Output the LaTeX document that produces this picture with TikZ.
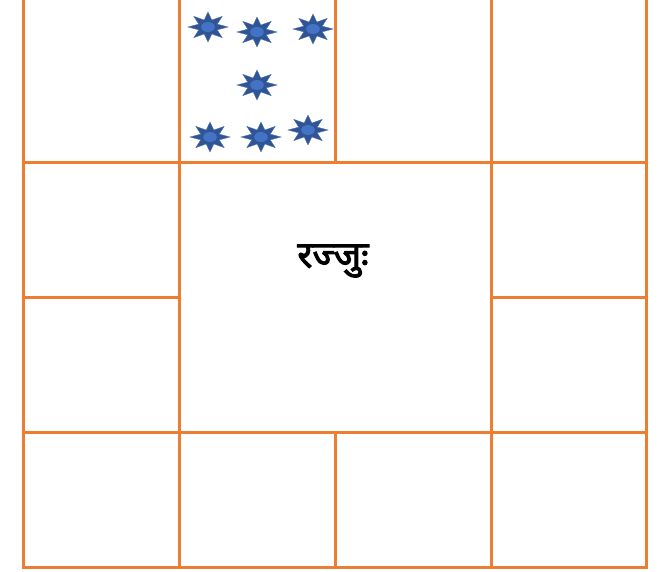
\documentclass[tikz,border=0pt]{standalone}
\usepackage{fontspec}
\newfontfamily\devfont[Script=Devanagari,FakeBold=2.5]{Noto Sans}
\usepackage{tikz}
\usetikzlibrary{calc}
\definecolor{GridOrange}{HTML}{ED7D31}
\definecolor{StarDark}{HTML}{2F5597}
\definecolor{StarLight}{HTML}{4472C4}

\begin{document}
\begin{tikzpicture}[
  x=1pt, y=-1pt,
  grid/.style={draw=GridOrange, line width=3pt},
  starbody/.style={fill=StarDark, draw=StarDark!85!white, line width=0.4pt},
  starcore/.style={fill=StarLight},
  lab/.style={font=\devfont\fontsize{37}{44}\selectfont, text=black},
]
\useasboundingbox (0,0) rectangle (668,571);
\def\xa{23.3} \def\xb{179} \def\xc{335} \def\xd{491} \def\xe{646.7}
\def\ya{162} \def\yb{297} \def\yc{432} \def\yd{567}
% ---------------- outer frame and full lines
\draw[grid] (\xa,-5) -- (\xa,\yd) -- (\xe,\yd) -- (\xe,-5);
\draw[grid] (\xb,-5) -- (\xb,\yd);
\draw[grid] (\xd,-5) -- (\xd,\yd);
\draw[grid] (\xa,\ya) -- (\xe,\ya);
\draw[grid] (\xa,\yc) -- (\xe,\yc);
% ---------------- partial lines
\draw[grid] (\xc,-5) -- (\xc,\ya);
\draw[grid] (\xc,\yc) -- (\xc,\yd);
\draw[grid] (\xa,\yb) -- (\xb,\yb);
\draw[grid] (\xd,\yb) -- (\xe,\yb);
% ---------------- stars
\foreach \cx/\cy in {208/27, 257/32, 313/29, 257/85, 210/137, 261/137, 308/130} {
  \fill[starbody] ({\cx+20},\cy)
    \foreach \a in {1,...,15} {
      -- ({\cx+(20-10*mod(\a,2))*cos(\a*22.5)},{\cy+(15-7.5*mod(\a,2))*sin(\a*22.5)})
    } -- cycle;
  \fill[starcore] (\cx,\cy) ellipse[x radius=6.8, y radius=5];
}
% ---------------- centre label
\node[lab] (word) at (333,261) {रज्जुः};
\end{tikzpicture}
\end{document}
